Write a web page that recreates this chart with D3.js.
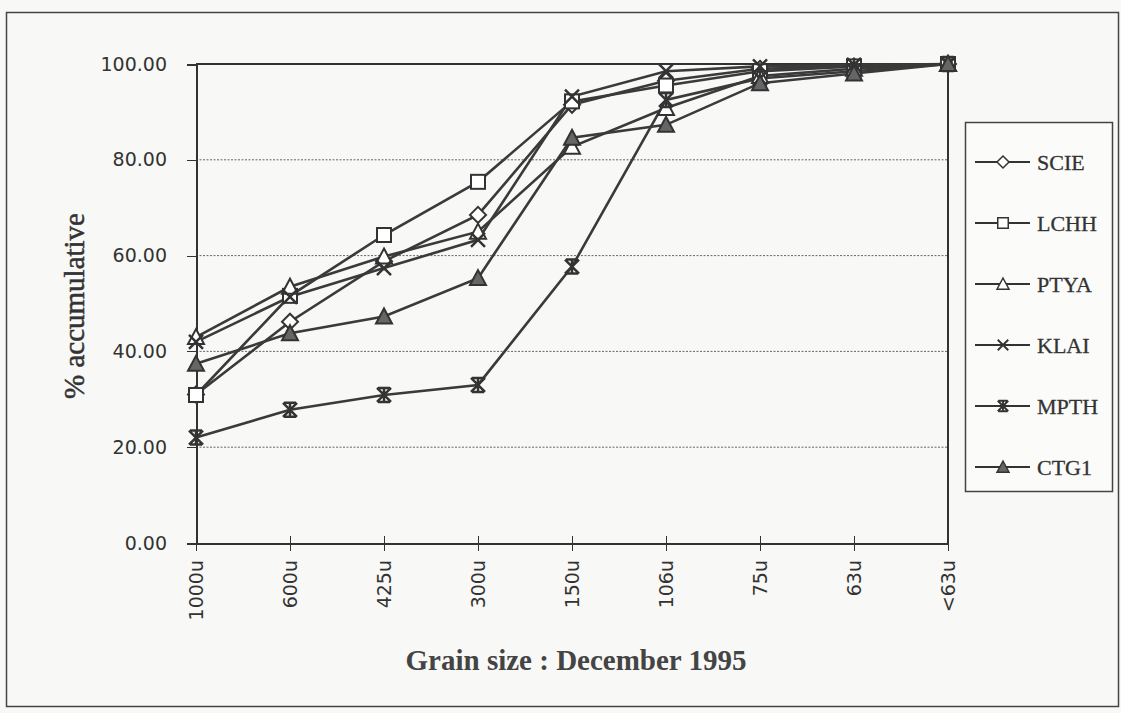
<!DOCTYPE html>
<html>
<head>
<meta charset="utf-8" />
<script src="https://cdn.jsdelivr.net/npm/d3@7"></script>
<style>
	body { margin: 0; background: #f8f8f6; }
	.axis path, .axis line { fill: none; stroke: #333; shape-rendering: crispEdges; }
	.axis text { font-family: "DejaVu Sans", sans-serif; font-size: 19px; fill: #333; }
	.grid line { stroke: #666; stroke-dasharray: 2, 1.5; }
</style>
</head>
<body>
<div id="chart"></div>
<script>
	// Grain size classes (x axis)
	var sizes = ["1000u", "600u", "425u", "300u", "150u", "106u", "75u", "63u", "<63u"];
	var yTicks = [0, 20, 40, 60, 80, 100];

	// % accumulative for each station
	var SCIE = [31.0, 46.2, 58.8, 68.5, 91.5, 96.5, 99.0, 99.5, 100];
	var LCHH = [30.9, 51.6, 64.3, 75.4, 92.2, 95.5, 98.5, 99.5, 100];
	var PTYA = [43.0, 53.5, 59.8, 65.0, 82.7, 90.8, 97.5, 99.0, 100];
	var KLAI = [42.0, 51.4, 57.4, 63.3, 93.2, 98.5, 99.5, 99.8, 100];
	var MPTH = [22.0, 27.8, 30.9, 33.0, 57.7, 92.5, 97.0, 98.5, 100];
	var CTG1 = [37.4, 43.8, 47.3, 55.3, 84.6, 87.3, 96.0, 98.0, 100];

	var names = ["SCIE", "LCHH", "PTYA", "KLAI", "MPTH", "CTG1"];
	var series = [SCIE, LCHH, PTYA, KLAI, MPTH, CTG1];
	var shapes = ["diamond", "square", "triangle", "cross", "star", "filledTriangle"];

	var W = 1121, H = 713;
	var margin = { top: 64, left: 196 },
		width = 752,
		height = 479;

	var svg = d3.select("#chart").append("svg")
		.attr("width", W)
		.attr("height", H);

	// outer frame
	svg.append("rect")
		.attr("x", 6.5).attr("y", 12.5)
		.attr("width", 1112).attr("height", 694)
		.attr("fill", "none").attr("stroke", "#444").attr("stroke-width", 1.5);

	var g = svg.append("g")
		.attr("transform", "translate(" + margin.left + "," + margin.top + ")");

	var x = d3.scalePoint().domain(sizes).range([0, width]);
	var y = d3.scaleLinear().domain([0, 100]).range([height, 0]);

	// grid
	g.append("g").attr("class", "grid")
		.selectAll("line")
		.data(yTicks.filter(function (d) { return d > 0 && d < 100; }))
		.enter().append("line")
		.attr("x1", 0).attr("x2", width)
		.attr("y1", function (d) { return y(d); })
		.attr("y2", function (d) { return y(d); });

	// plot border top + right
	g.append("path")
		.attr("d", "M0," + y(100) + "H" + width + "V" + height)
		.attr("fill", "none").attr("stroke", "#333").attr("stroke-width", 2);

	// y axis
	g.append("g").attr("class", "y axis")
		.call(d3.axisLeft(y).tickValues(yTicks).tickFormat(d3.format(".2f")).tickSize(9).tickPadding(20))
		.call(function (a) { a.select(".domain").attr("stroke-width", 2); });

	// x axis
	g.append("g").attr("class", "x axis")
		.attr("transform", "translate(0," + height + ")")
		.call(d3.axisBottom(x).tickSize(8).tickSizeOuter(0))
		.call(function (a) {
			a.select(".domain").attr("stroke-width", 2);
			a.selectAll(".tick line").attr("y1", -7);
			a.selectAll(".tick text")
				.attr("transform", "rotate(-90)")
				.attr("x", -17)
				.attr("y", 0)
				.attr("dy", ".36em")
				.style("text-anchor", "end");
		});

	// axis titles
	svg.append("text")
		.attr("transform", "translate(84,306) rotate(-90)")
		.style("text-anchor", "middle")
		.style("font-family", "'Liberation Serif', serif")
		.style("font-size", "29px")
		.style("fill", "#333").style("stroke", "#333").style("stroke-width", 0.5)
		.text("% accumulative");

	svg.append("text")
		.attr("x", 576).attr("y", 670)
		.style("text-anchor", "middle")
		.style("font-family", "'Liberation Serif', serif")
		.style("font-weight", "bold")
		.style("font-size", "29px")
		.style("fill", "#444")
		.text("Grain size : December 1995");

	// marker drawing
	function marker(sel, shape) {
		var s = 7;
		if (shape === "diamond") {
			sel.append("path").attr("d", "M0," + (-s - 1) + "L" + (s + 1) + ",0L0," + (s + 1) + "L" + (-s - 1) + ",0Z")
				.attr("fill", "#fff").attr("stroke", "#333").attr("stroke-width", 2);
		} else if (shape === "square") {
			sel.append("rect").attr("x", -s).attr("y", -s).attr("width", 2 * s).attr("height", 2 * s)
				.attr("fill", "#fff").attr("stroke", "#333").attr("stroke-width", 2);
		} else if (shape === "triangle" || shape === "filledTriangle") {
			sel.append("path").attr("d", "M0," + (-s - 1) + "L" + (s + 1) + "," + s + "L" + (-s - 1) + "," + s + "Z")
				.attr("fill", shape === "triangle" ? "#fff" : "#666")
				.attr("stroke", "#333").attr("stroke-width", 2);
		} else if (shape === "cross") {
			sel.append("path").attr("d", "M" + (-s) + "," + (-s) + "L" + s + "," + s + "M" + s + "," + (-s) + "L" + (-s) + "," + s)
				.attr("stroke", "#333").attr("stroke-width", 2.5);
		} else if (shape === "star") {
			sel.append("path").attr("d", "M" + (-s) + "," + (-s) + "L" + s + "," + s + "M" + s + "," + (-s) + "L" + (-s) + "," + s +
				"M0," + (-s) + "V" + s + "M" + (-s + 1) + "," + (-s) + "H" + (s - 1) + "M" + (-s + 1) + "," + s + "H" + (s - 1))
				.attr("stroke", "#333").attr("stroke-width", 2.5);
		}
	}

	var line = d3.line()
		.x(function (d, i) { return x(sizes[i]); })
		.y(function (d) { return y(d); });

	series.forEach(function (vals) {
		g.append("path")
			.attr("d", line(vals))
			.attr("fill", "none")
			.attr("stroke", "#3a3a3a")
			.attr("stroke-width", 2.6);
	});

	series.forEach(function (vals, k) {
		g.selectAll(".m" + k)
			.data(vals)
			.enter().append("g")
			.attr("class", "m" + k)
			.attr("transform", function (d, i) { return "translate(" + x(sizes[i]) + "," + y(d) + ")"; })
			.each(function () { marker(d3.select(this), shapes[k]); });
	});

	// legend
	var legend = svg.append("g");
	legend.append("rect")
		.attr("x", 965.5).attr("y", 122.5)
		.attr("width", 147).attr("height", 369)
		.attr("fill", "#fbfbfa").attr("stroke", "#444").attr("stroke-width", 1.5);

	var items = legend.selectAll(".legend")
		.data(names)
		.enter().append("g")
		.attr("class", "legend")
		.attr("transform", function (d, i) { return "translate(0," + (162 + i * 61) + ")"; });

	items.append("line")
		.attr("x1", 975).attr("x2", 1030)
		.attr("stroke", "#333").attr("stroke-width", 2.2);

	items.append("g")
		.attr("transform", "translate(1003,0) scale(0.75)")
		.each(function (d, i) { marker(d3.select(this), shapes[i]); });

	items.append("text")
		.attr("x", 1037)
		.attr("dy", ".35em")
		.style("font-family", "'Liberation Serif', serif")
		.style("font-size", "22px")
		.style("fill", "#333").style("stroke", "#333").style("stroke-width", 0.3)
		.text(function (d) { return d; });
</script>
</body>
</html>
